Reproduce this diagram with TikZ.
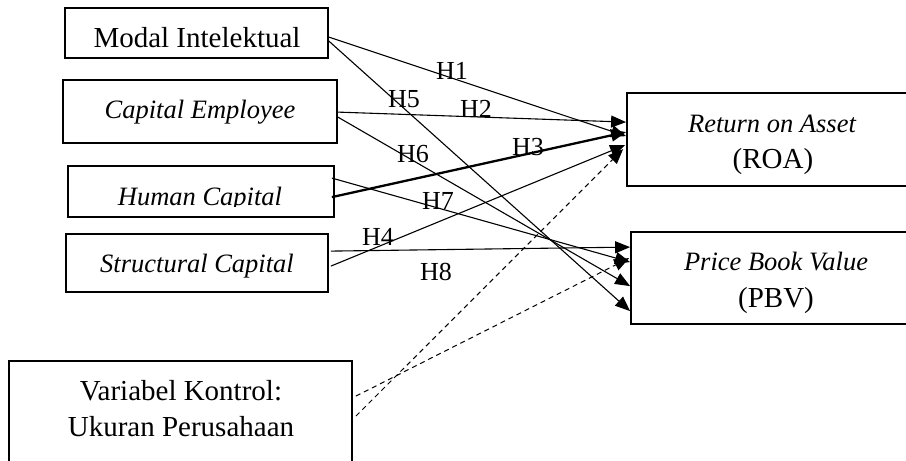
\documentclass[tikz,border=0pt]{standalone}
\usepackage{fontspec}
\setmainfont{Liberation Serif}
\usetikzlibrary{arrows.meta,calc}
\begin{document}
\begin{tikzpicture}[x=1pt,y=-1pt,
  box/.style={draw,line width=1.8pt,rectangle,inner sep=0pt},
  up/.style={font=\fontsize{29}{33}\selectfont, inner sep=0pt, anchor=base},
  it/.style={font=\fontsize{26.5}{30}\selectfont\itshape, inner sep=0pt, anchor=base},
  hlab/.style={font=\fontsize{26}{29}\selectfont, inner sep=0pt},
  arr/.style={line width=1.1pt, -{Triangle[length=15pt,width=12pt]}},
  thickarr/.style={arr, line width=2.3pt},
  darr/.style={line width=1pt, dash pattern=on 5pt off 4pt, -{Triangle[length=15pt,width=12pt]}},
]
\useasboundingbox (0,0) rectangle (906,461);

% boxes
\node[box, minimum width=263pt, minimum height=50pt] (mi) at (196.5,33) {};
\node[box, minimum width=274pt, minimum height=63pt] (ce) at (200,111.5) {};
\node[box, minimum width=266pt, minimum height=51pt] (hc) at (201,191.5) {};
\node[box, minimum width=262pt, minimum height=58pt] (sc) at (197,263) {};
\node[box, minimum width=290pt, minimum height=93pt] (roa) at (772,139.5) {};
\node[box, minimum width=290pt, minimum height=92pt] (pbv) at (776,278) {};
\node[box, minimum width=343pt, minimum height=109pt] (vk) at (180.5,415.5) {};

% texts
\node[up] (mit) at (197,47) {Modal Intelektual};
\node[it] (cet) at (200,118) {Capital Employee};
\begin{scope}
  \clip (68,166) rectangle (334,206);
  \node[it] (hct) at (200,205) {Human Capital};
\end{scope}
\node[it] (sct) at (197,272) {Structural Capital};
\node[it] (roat) at (772,132) {Return on Asset};
\node[up] (roab) at (773,168) {(ROA)};
\node[it] (pbvt) at (776,270) {Price Book Value};
\node[up] (pbvb) at (776,307) {(PBV)};
\node[up] (vkt) at (181,400) {Variabel Kontrol:};
\node[up] (vkb) at (181,436) {Ukuran Perusahaan};

% connector ends
\coordinate (s1) at ($(mi.north east)+(0,30)$);
\coordinate (s5) at ($(mi.north east)+(0,34)$);
\coordinate (s2) at ($(ce.north east)+(0,33)$);
\coordinate (s6) at ($(ce.north east)+(0,38)$);
\coordinate (s7) at ($(hc.north east)+(-3,13)$);
\coordinate (s3) at ($(hc.north east)+(-3,32)$);
\coordinate (s8) at ($(sc.north east)+(2,18)$);
\coordinate (s4) at ($(sc.north east)+(2,33)$);
\coordinate (sdp) at ($(vk.north east)+(3,36)$);
\coordinate (sdr) at ($(vk.north east)+(3,56)$);

\coordinate (e2) at ($(roa.north west)+(0,30)$);
\coordinate (e3) at ($(roa.north west)+(0,40)$);
\coordinate (e1) at ($(roa.north west)+(0,44)$);
\coordinate (e4) at ($(roa.north west)+(-1,53)$);
\coordinate (edr) at ($(roa.north west)+(-3,57)$);
\coordinate (e8) at ($(pbv.north west)+(0,16)$);
\coordinate (edp) at ($(pbv.north west)+(-1,27)$);
\coordinate (e7) at ($(pbv.north west)+(0,31)$);
\coordinate (e6) at ($(pbv.north west)+(0,55)$);
\coordinate (e5) at ($(pbv.north west)+(0,80)$);

% connectors
\draw[arr] (s1) -- (e1);
\draw[arr] (s2) -- (e2);
\draw[thickarr] (s3) -- (e3);
\draw[arr] (s4) -- (e4);
\draw[arr] (s5) -- (e5);
\draw[arr] (s6) -- (e6);
\draw[arr] (s7) -- (e7);
\draw[arr] (s8) -- (e8);
\draw[darr] (sdr) -- (edr);
\draw[darr] (sdp) -- (edp);

% labels
\node[hlab] (h1) at (452,71) {H1};
\node[hlab] (h5) at (404,99) {H5};
\node[hlab] (h2) at (476,109) {H2};
\node[hlab] (h3) at (528,147) {H3};
\node[hlab] (h6) at (413,154) {H6};
\node[hlab] (h7) at (438,201) {H7};
\node[hlab] (h4) at (378,237) {H4};
\node[hlab] (h8) at (436,272) {H8};
\end{tikzpicture}
\end{document}
